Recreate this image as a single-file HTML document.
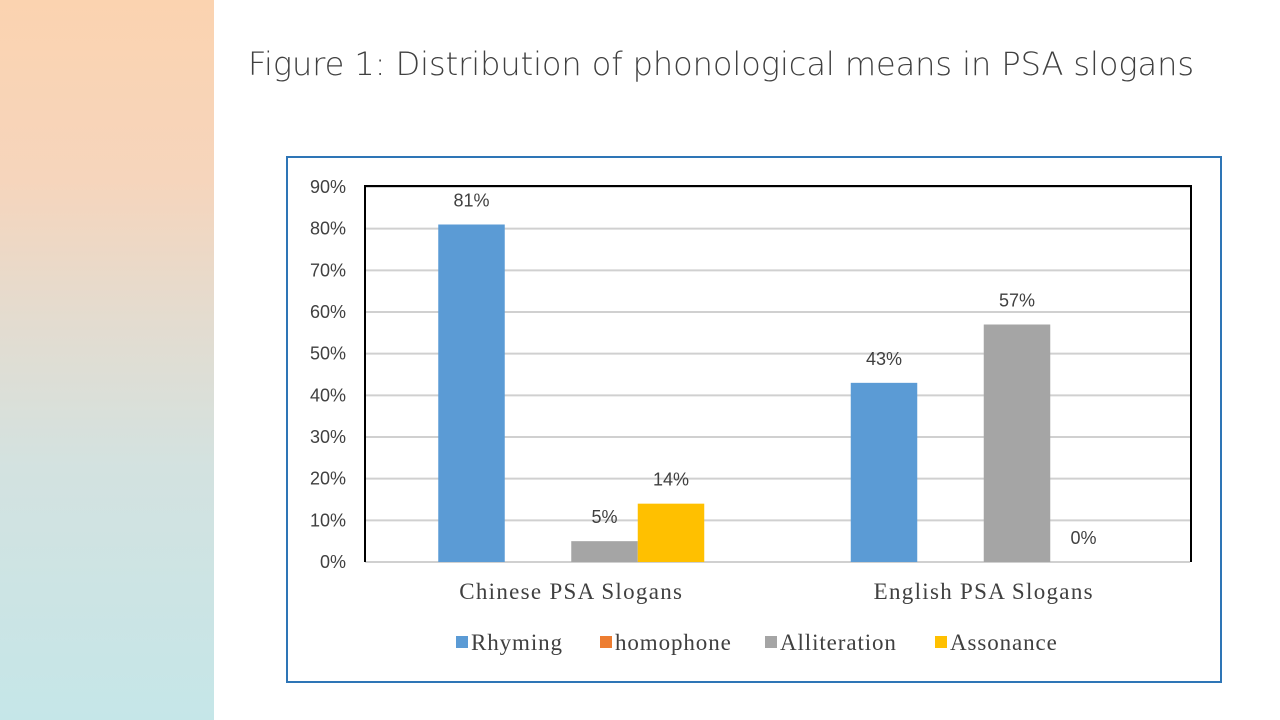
<!DOCTYPE html>
<html><head><meta charset="utf-8"><style>
body{margin:0;width:1280px;height:720px;overflow:hidden;background:#fff;position:relative;font-family:"Liberation Sans",sans-serif}
#side{position:absolute;left:0;top:0;width:214px;height:720px;background:linear-gradient(180deg,#fbd3b0 0%,#f6d5bc 25%,#e3dcd0 45%,#d3e2e0 65%,#c5e6e8 100%)}
#title{position:absolute;left:248px;top:45px;font-size:32px;color:#404040;font-family:"DejaVu Sans","Liberation Sans",sans-serif;font-weight:200;letter-spacing:-0.05px}
#frame{position:absolute;left:286px;top:156px;width:932px;height:523px;border:2px solid #2e75b6;box-sizing:content-box}
</style></head><body>
<div id="side"></div>
<div id="title">Figure 1: Distribution of phonological means in PSA slogans</div>
<div id="frame"></div>
<svg id="chart" width="1280" height="720" style="position:absolute;left:0;top:0"></svg>
<script>
const categories=["Chinese PSA Slogans","English PSA Slogans"];
const seriesNames=["Rhyming","homophone","Alliteration","Assonance"];
const seriesColors=["#5b9bd5","#ed7d31","#a5a5a5","#ffc000"];
const rhyming=[81,43];
const homophone=[0,0];
const alliteration=[5,57];
const assonance=[14,0];
const yTicks=[0,10,20,30,40,50,60,70,80,90];
const labels=[["81%","43%"],[null,null],["5%","57%"],["14%","0%"]];
const series=[rhyming,homophone,alliteration,assonance];
const svg=document.getElementById('chart');const NS='http://www.w3.org/2000/svg';
const X0=365,X1=1190,Y0=562,Y1=187;
const y=v=>Y0-(v/90)*(Y0-Y1);
const catW=(X1-X0)/categories.length,barW=66.5;
function mk(t,a,txt){const e=document.createElementNS(NS,t);for(const k in a)e.setAttribute(k,a[k]);if(txt!=null)e.textContent=txt;svg.appendChild(e);return e;}
yTicks.forEach(t=>{const g=mk('line',{x1:X0,x2:X1,y1:y(t),y2:y(t),stroke:'#d0d0d0','stroke-width':2});


const l=mk('text',{x:346,y:y(t)+6,'text-anchor':'end','font-size':18,fill:'#404040','font-family':'Liberation Sans, sans-serif'},t+'%');

});
const ax=mk('path',{d:`M${X0} ${Y0}V${Y1-1}H${X1+1}V${Y0}`,fill:'none',stroke:'#000','stroke-width':2});


categories.forEach((c,i)=>{const cx=X0+catW*(i+0.5);const start=cx-barW*series.length/2;
series.forEach((s,j)=>{const bx=start+barW*j;
if(s[i]>0){const r=mk('rect',{x:bx,y:y(s[i]),width:barW,height:Y0-y(s[i]),fill:seriesColors[j]});

}
if(labels[j][i]){const t=mk('text',{x:bx+barW/2,y:y(s[i])-18,'text-anchor':'middle','font-size':18,fill:'#404040','font-family':'Liberation Sans, sans-serif'},labels[j][i]);

}});
const ct=mk('text',{x:cx,y:599,'text-anchor':'middle','font-size':23,'letter-spacing':1.3,fill:'#404040','font-family':'Liberation Serif, serif'},c);

});
const lx=[456,600,765,935];
seriesNames.forEach((n,j)=>{const r=mk('rect',{x:lx[j],y:636,width:12,height:12,fill:seriesColors[j]});


const t=mk('text',{x:lx[j]+15,y:650,'font-size':23,'letter-spacing':0.9,fill:'#404040','font-family':'Liberation Serif, serif'},n);

});
</script>
</body></html>
